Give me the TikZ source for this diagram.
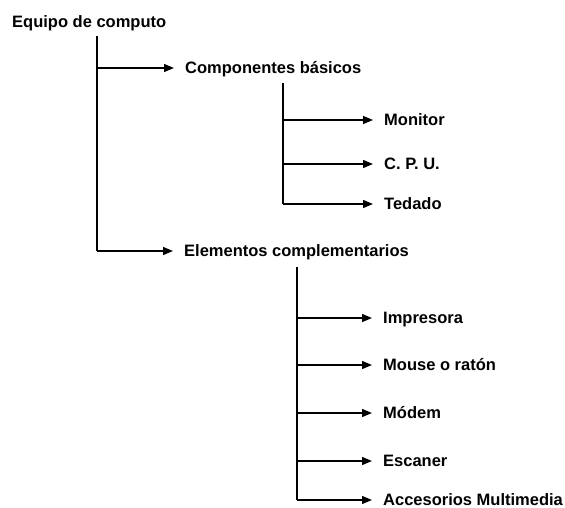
\documentclass[tikz,border=0pt]{standalone}
\usepackage{fontspec}
\setmainfont{Liberation Sans}
\usetikzlibrary{arrows.meta}
\begin{document}
\begin{tikzpicture}[x=1pt,y=1pt,
    item/.style={anchor=west,inner xsep=11pt,inner ysep=0pt,text height=11.8pt,text depth=0pt,
                 font=\fontsize{16.5}{19}\selectfont\bfseries},
    arr/.style={line width=1.3pt,-{Triangle[length=10pt,width=8pt]}},
    trunk/.style={line width=1.3pt}]
  \useasboundingbox (0,0) rectangle (565,-508);
  % nodos
  \node[item] (eq)  at (1,-22)    {Equipo de computo};
  \node[item] (cb)  at (174,-68)  {Componentes básicos};
  \node[item] (mon) at (373,-120) {Monitor};
  \node[item] (cpu) at (373,-164) {C. P. U.};
  \node[item] (ted) at (373,-204) {Tedado};
  \node[item] (ec)  at (173,-251) {Elementos complementarios};
  \node[item] (imp) at (372,-318) {Impresora};
  \node[item] (mou) at (372,-365) {Mouse o ratón};
  \node[item] (mod) at (372,-413) {Módem};
  \node[item] (esc) at (372,-461) {Escaner};
  \node[item] (acc) at (372,-500) {Accesorios Multimedia};
  % lineas verticales
  \coordinate (t1) at (97,-36);
  \coordinate (t2) at (283,-83);
  \coordinate (t3) at (297,-267);
  \draw[trunk] (t1) -- (t1 |- ec.west);
  \draw[trunk] (t2) -- (t2 |- ted.west);
  \draw[trunk] (t3) -- (t3 |- acc.west);
  % flechas
  \draw[arr] (t1 |- cb.west) -- (cb.west);
  \draw[arr] (t1 |- ec.west) -- (ec.west);
  \foreach \n in {mon,cpu,ted}
    \draw[arr] (t2 |- \n.west) -- (\n.west);
  \foreach \n in {imp,mou,mod,esc,acc}
    \draw[arr] (t3 |- \n.west) -- (\n.west);
\end{tikzpicture}
\end{document}
